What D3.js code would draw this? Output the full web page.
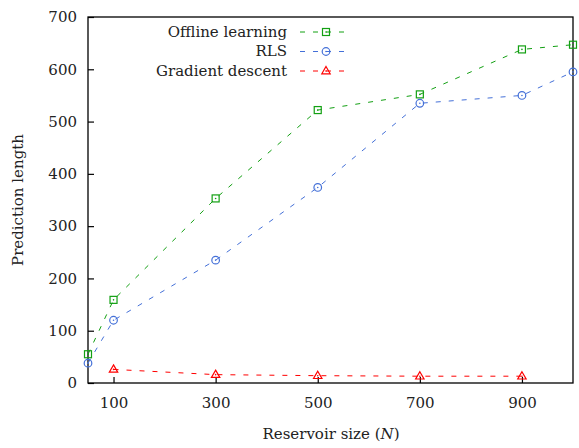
<!DOCTYPE html>
<html>
<head>
<meta charset="utf-8">
<script src="https://cdn.jsdelivr.net/npm/d3@7"></script>
<style>
  body { margin: 0; background: white; }
  svg { display: block; }
  svg text { font-family: "DejaVu Serif", "Liberation Serif", serif; }
</style>
</head>
<body>
<svg id="chart"></svg>
<script>
// reservoir sizes on the x axis
let sizes = [50, 100, 300, 500, 700, 900, 1000];
let offline = [55, 159, 353, 522, 552, 638, 647];
let rls = [38, 120, 235, 374, 535, 550, 595];
let gd_sizes = [100, 300, 500, 700, 900];
let gd = [26, 16, 14, 13, 13];

let x_ticks = [100, 300, 500, 700, 900];
let y_ticks = [0, 100, 200, 300, 400, 500, 600, 700];

let series_names = ["Offline learning", "RLS", "Gradient descent"];
let series_colors = ["#13a013", "#4470d8", "#ff0000"];
let series_markers = ["square", "circle", "triangle"];

let width = 579, height = 448;
let font_size = 15;

let plot_left = 88, plot_right = 573, plot_top = 17, plot_bottom = 383;

let svg = d3.select("#chart")
    .attr("width", width)
    .attr("height", height)
    .style("background-color", "white");

let x = d3.scaleLinear().domain([50, 1000]).range([plot_left, plot_right]);
let y = d3.scaleLinear().domain([0, 700]).range([plot_bottom, plot_top]);

// axes with inward ticks
let xAxis = svg.append("g")
    .attr("transform", "translate(0," + plot_bottom + ")")
    .call(d3.axisBottom(x).tickValues(x_ticks).tickSizeInner(-6).tickSizeOuter(0).tickPadding(14));
let yAxis = svg.append("g")
    .attr("transform", "translate(" + plot_left + ",0)")
    .call(d3.axisLeft(y).tickValues(y_ticks).tickSizeInner(-6).tickSizeOuter(0).tickPadding(11));

[xAxis, yAxis].forEach(function(a) {
    a.attr("font-family", null);
    a.select(".domain").remove();
    a.selectAll("line").attr("stroke", "black").attr("stroke-width", 1.2);
    a.selectAll("text")
        .attr("font-size", font_size + "px")
        .attr("fill", "#222");
});
xAxis.selectAll("text").attr("dy", "0.71em");

// frame
svg.append("rect")
    .attr("x", plot_left)
    .attr("y", plot_top)
    .attr("width", plot_right - plot_left)
    .attr("height", plot_bottom - plot_top)
    .attr("fill", "none")
    .attr("stroke", "black")
    .attr("stroke-width", 1.3);

function drawMarker(g, kind, cx, cy, color) {
    if (kind === "square") {
        g.append("rect")
            .attr("x", cx - 3.5).attr("y", cy - 3.5)
            .attr("width", 7).attr("height", 7)
            .attr("fill", "none").attr("stroke", color).attr("stroke-width", 1.2);
    } else if (kind === "circle") {
        g.append("circle")
            .attr("cx", cx).attr("cy", cy).attr("r", 3.8)
            .attr("fill", "none").attr("stroke", color).attr("stroke-width", 1.2);
    } else {
        g.append("path")
            .attr("d", "M" + cx + "," + (cy - 4.5) + "L" + (cx + 4.2) + "," + (cy + 2.8) + "L" + (cx - 4.2) + "," + (cy + 2.8) + "Z")
            .attr("fill", "none").attr("stroke", color).attr("stroke-width", 1.2);
    }
    g.append("circle")
        .attr("cx", cx).attr("cy", cy).attr("r", 0.8)
        .attr("fill", color);
}

let line = d3.line().x(function(d) { return x(d[0]); }).y(function(d) { return y(d[1]); });

let all_series = [
    d3.zip(sizes, offline),
    d3.zip(sizes, rls),
    d3.zip(gd_sizes, gd)
];

all_series.forEach(function(data, i) {
    let g = svg.append("g");
    g.append("path")
        .datum(data)
        .attr("d", line)
        .attr("fill", "none")
        .attr("stroke", series_colors[i])
        .attr("stroke-width", 1)
        .attr("stroke-dasharray", "5,8");
    data.forEach(function(d) {
        drawMarker(g, series_markers[i], x(d[0]), y(d[1]), series_colors[i]);
    });
});

// legend
series_names.forEach(function(name, i) {
    let ly = 32 + i * 19.5;
    svg.append("text")
        .attr("x", 287)
        .attr("y", ly)
        .attr("dy", "0.33em")
        .attr("text-anchor", "end")
        .attr("font-size", font_size + "px")
        .attr("fill", "#222")
        .text(name);
    svg.append("line")
        .attr("x1", 300).attr("y1", ly)
        .attr("x2", 345).attr("y2", ly)
        .attr("stroke", series_colors[i])
        .attr("stroke-width", 1)
        .attr("stroke-dasharray", "5,8");
    drawMarker(svg.append("g"), series_markers[i], 326, ly, series_colors[i]);
});

// axis titles
svg.append("text")
    .attr("x", 331)
    .attr("y", 439)
    .attr("text-anchor", "middle")
    .attr("font-size", font_size + "px")
    .attr("fill", "#222")
    .html("Reservoir size (<tspan font-style='italic'>N</tspan>)");

svg.append("text")
    .attr("transform", "translate(23,200) rotate(-90)")
    .attr("text-anchor", "middle")
    .attr("font-size", font_size + "px")
    .attr("fill", "#222")
    .text("Prediction length");
</script>
</body>
</html>
